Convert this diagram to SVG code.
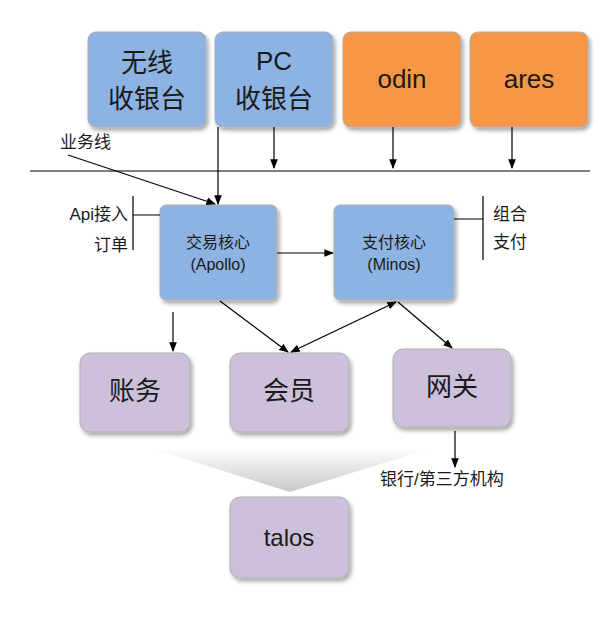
<svg xmlns="http://www.w3.org/2000/svg" width="611" height="624" viewBox="0 0 611 624">
<style>
.b{fill:#8DB3E2}.o{fill:#F79646}.p{fill:#CCC0DA}
.n{stroke:#b0b0b0;stroke-width:1;filter:url(#sh)}
text{font-family:"Liberation Sans","Noto Sans CJK SC",sans-serif;fill:#1a1a1a}
.big{font-size:26px;text-anchor:middle}
.mid{font-size:16px;text-anchor:middle}
.lab{font-size:17px}
.c{stroke:#000;stroke-width:1.2;fill:none}
</style>
<defs>
<filter id="sh" x="-10%" y="-10%" width="130%" height="130%"><feDropShadow dx="2" dy="3" stdDeviation="2" flood-color="#000" flood-opacity="0.35"/></filter>
<marker id="a" viewBox="0 0 10 10" refX="9" refY="5" markerWidth="8" markerHeight="8" orient="auto-start-reverse"><path d="M0,1 L10,5 L0,9 z" fill="#000"/></marker>
<linearGradient id="g" x1="0" y1="0" x2="0" y2="1"><stop offset="0" stop-color="#fff"/><stop offset="1" stop-color="#c8c8c8"/></linearGradient>
</defs>
<rect width="611" height="624" fill="#fff"/>
<polygon points="150,448 432,448 290,492" fill="url(#g)"/>
<g id="n1"><rect class="b n" x="88" y="32" width="118" height="95" rx="8"/><text class="big" x="147" y="72">无线</text><text class="big" x="147" y="108">收银台</text></g>
<g id="n2"><rect class="b n" x="215" y="32" width="118" height="95" rx="8"/><text class="big" x="274" y="70">PC</text><text class="big" x="274" y="108">收银台</text></g>
<g id="n3"><rect class="o n" x="343" y="32" width="118" height="95" rx="8"/><text class="big" x="402" y="88">odin</text></g>
<g id="n4"><rect class="o n" x="470" y="32" width="118" height="95" rx="8"/><text class="big" x="529" y="88">ares</text></g>
<g id="apollo"><rect class="b n" x="160" y="205" width="117" height="95" rx="6"/><text class="mid" x="218" y="248">交易核心</text><text class="mid" x="218" y="270">(Apollo)</text></g>
<g id="minos"><rect class="b n" x="334" y="205" width="120" height="95" rx="6"/><text class="mid" x="394" y="248">支付核心</text><text class="mid" x="394" y="270">(Minos)</text></g>
<g id="zw"><rect class="p n" x="80" y="353" width="110" height="79" rx="10"/><text class="big" x="135" y="400">账务</text></g>
<g id="hy"><rect class="p n" x="230" y="353" width="119" height="79" rx="10"/><text class="big" x="289" y="400">会员</text></g>
<g id="wg"><rect class="p n" x="393" y="349" width="118" height="78" rx="10"/><text class="big" x="452" y="396">网关</text></g>
<g id="talos"><rect class="p n" x="230" y="497" width="119" height="81" rx="10"/><text class="big" x="289" y="546" style="font-size:24px">talos</text></g>
<g id="labels">
<text class="lab" x="60" y="148">业务线</text>
<text class="lab" x="128" y="220" text-anchor="end">Api接入</text>
<text class="lab" x="128" y="251" text-anchor="end">订单</text>
<text class="lab" x="493" y="220">组合</text>
<text class="lab" x="493" y="248">支付</text>
<text class="lab" x="380" y="485">银行/第三方机构</text>
</g>
<g id="connectors">
<line class="c" x1="30" y1="171" x2="590" y2="171"/>
<line class="c" x1="274" y1="127" x2="274" y2="168" marker-end="url(#a)"/>
<line class="c" x1="393" y1="127" x2="393" y2="168" marker-end="url(#a)"/>
<line class="c" x1="512" y1="127" x2="512" y2="168" marker-end="url(#a)"/>
<line class="c" x1="218" y1="127" x2="218" y2="204" marker-end="url(#a)"/>
<line class="c" x1="68" y1="155" x2="215" y2="204" marker-end="url(#a)"/>
<line class="c" x1="277" y1="253" x2="333" y2="253" marker-end="url(#a)"/>
<path class="c" d="M133,196 V250 M133,215 H160"/>
<path class="c" d="M483,196 V260 M454,219 H483"/>
<line class="c" x1="173" y1="312" x2="173" y2="351" marker-end="url(#a)"/>
<line class="c" x1="220" y1="301" x2="288" y2="352" marker-end="url(#a)"/>
<line class="c" x1="396" y1="302" x2="291" y2="352" marker-start="url(#a)" marker-end="url(#a)"/>
<line class="c" x1="398" y1="302" x2="452" y2="348" marker-end="url(#a)"/>
<line class="c" x1="455" y1="431" x2="455" y2="467" marker-end="url(#a)"/>
</g>
</svg>
